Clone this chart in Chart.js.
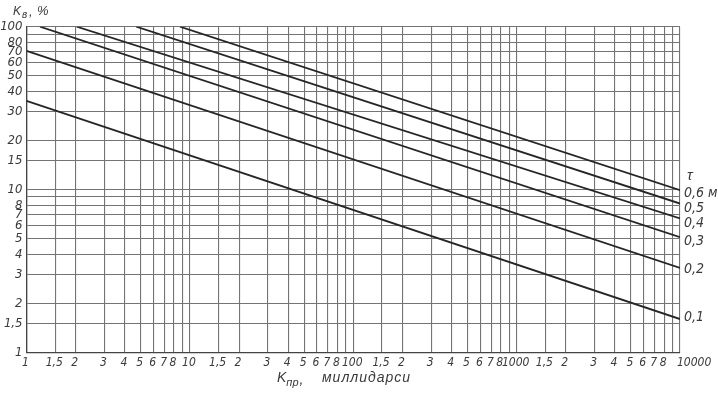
<!DOCTYPE html>
<html><head><meta charset="utf-8">
<script src="https://cdn.jsdelivr.net/npm/chart.js@4"></script>
<style>html,body{margin:0;padding:0;background:#fff}canvas{display:block}</style>
</head><body>
<canvas id="c" width="718" height="394"></canvas>
<script>
// ---- data ----
const xTickValues = [1,1.5,2,3,4,5,6,7,8,9,10,15,20,30,40,50,60,70,80,90,100,150,200,300,400,500,600,700,800,900,1000,1500,2000,3000,4000,5000,6000,7000,8000,9000,10000];
const xTickLabels = ['1','1,5','2','3','4','5','6','7','8','','10','1,5','2','3','4','5','6','7','8','','100','1,5','2','3','4','5','6','7','8','','1000','1,5','2','3','4','5','6','7','8','','10000'];
const yTickValues = [1,1.5,2,3,4,5,6,7,8,9,10,15,20,30,40,50,60,70,80,90,100];
const yTickLabels = ['1','1,5','2','3','4','5','6','7','8','','10','15','20','30','40','50','60','70','80','','100'];

const tauLabels  = ['0,1','0,2','0,3','0,4','0,5','0,6 м'];
const lineStartX = [1, 1, 1.21, 2.03, 4.7, 8.7];
const lineStartY = [35, 71, 100, 100, 100, 100];
const lineEndX   = [10000, 10000, 10000, 10000, 10000, 10000];
const lineEndY   = [1.6, 3.3, 5.1, 6.65, 8.2, 9.9];

const xTitleMain = 'K', xTitleSub = 'пр', xTitleComma = ',', xTitleRest = 'миллидарси';
const yTitleMain = 'K', yTitleSub = 'в', yTitleComma = ',', yTitleRest = '%';
const tauTitle = 'τ';

// ---- styling ----
const INK = '#3a3a3a';
const LINE = '#262626';
const GRID = '#747474';
const FAM = '"Liberation Sans Narrow", "DejaVu Sans Condensed", "Liberation Sans", sans-serif';
const FAM2 = '"Liberation Sans", sans-serif';
const labelOffsets = [-2, 1, 4, 5, 5, 3];

const datasets = tauLabels.map((t, i) => ({
  label: t,
  data: [{x: lineStartX[i], y: lineStartY[i]}, {x: lineEndX[i], y: lineEndY[i]}],
  borderColor: LINE,
  borderWidth: 1.8,
  pointRadius: 0,
  tension: 0,
  fill: false
}));

const annot = {
  id: 'annot',
  afterDraw(chart) {
    const ctx = chart.ctx;
    ctx.save();
    ctx.fillStyle = INK;
    // x tick labels
    const xs = chart.scales.x;
    ctx.font = 'italic 12px ' + FAM;
    ctx.textBaseline = 'middle';
    xTickValues.forEach((v, i) => {
      const lab = xTickLabels[i];
      if (!lab) return;
      const px = xs.getPixelForValue(v);
      if (i === xTickValues.length - 1) {
        ctx.textAlign = 'left';
        ctx.fillText(lab, px - 3, 363);
      } else {
        ctx.textAlign = 'center';
        ctx.fillText(lab, px - 1, 363);
      }
    });
    // line labels
    ctx.textAlign = 'left';
    ctx.font = 'italic 14px ' + FAM;
    chart.data.datasets.forEach((ds, i) => {
      const meta = chart.getDatasetMeta(i);
      const p = meta.data[meta.data.length - 1];
      ctx.textBaseline = 'middle';
      ctx.fillText(ds.label, p.x + 4, p.y + labelOffsets[i]);
    });
    // tau
    const p6 = chart.getDatasetMeta(5).data[1];
    ctx.font = 'italic 15px ' + FAM2;
    ctx.fillText(tauTitle, p6.x + 7, p6.y - 14);
    // x title
    ctx.textBaseline = 'alphabetic';
    ctx.font = 'italic 14px ' + FAM2;
    let x = 277;
    ctx.fillText(xTitleMain, x, 382);
    x += ctx.measureText(xTitleMain).width;
    ctx.font = 'italic 11px ' + FAM2;
    ctx.fillText(xTitleSub, x, 386);
    x += ctx.measureText(xTitleSub).width;
    ctx.font = 'italic 14px ' + FAM2;
    ctx.fillText(xTitleComma, x + 1, 384);
    ctx.letterSpacing = '1px';
    ctx.fillText(xTitleRest, 322, 382);
    ctx.letterSpacing = '0px';
    // y title
    const y0 = 15;
    x = 13;
    ctx.font = 'italic 12px ' + FAM2;
    ctx.fillText(yTitleMain, x, y0);
    x += ctx.measureText(yTitleMain).width;
    ctx.font = 'italic 10px ' + FAM2;
    ctx.fillText(yTitleSub, x + 1, y0 + 3);
    ctx.font = 'italic 13px ' + FAM2;
    ctx.fillText(yTitleComma, 29, y0 + 1);
    ctx.fillText(yTitleRest, 37, y0);
    ctx.restore();
  }
};

new Chart(document.getElementById('c'), {
  type: 'line',
  data: {datasets},
  options: {
    responsive: false,
    animation: false,
    events: [],
    layout: {padding: {top: 26.7, right: 38, left: 0, bottom: 0}},
    plugins: {legend: {display: false}, tooltip: {enabled: false}},
    scales: {
      x: {
        type: 'logarithmic',
        min: 1, max: 10000,
        afterBuildTicks: s => { s.ticks = xTickValues.map(v => ({value: v})); },
        afterFit: s => { s.height = 41.7; },
        ticks: {display: false, autoSkip: false, maxRotation: 0, minRotation: 0},
        grid: {color: GRID, lineWidth: 1.1, drawTicks: false},
        border: {color: '#444', width: 1.3}
      },
      y: {
        type: 'logarithmic',
        min: 1, max: 100,
        afterBuildTicks: s => { s.ticks = yTickValues.map(v => ({value: v})); },
        afterFit: s => { s.width = 26.5; },
        ticks: {
          autoSkip: false, padding: 4,
          color: INK, font: {family: FAM, style: 'italic', size: 13},
          callback: (v, i) => yTickLabels[i]
        },
        grid: {color: GRID, lineWidth: 1.1, drawTicks: false},
        border: {color: '#444', width: 1.3}
      }
    }
  },
  plugins: [annot]
});
</script>
</body></html>
